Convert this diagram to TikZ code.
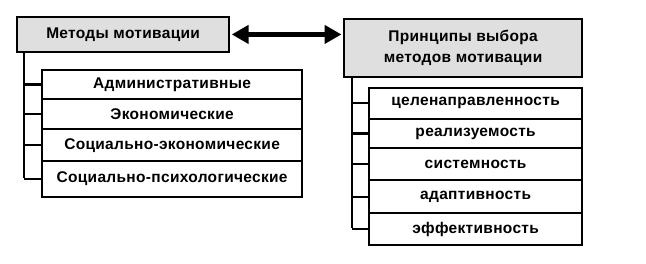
\documentclass[tikz,border=0pt]{standalone}
\usepackage{fontspec}
\setmainfont{Liberation Sans}[LetterSpace=2]
\usetikzlibrary{arrows.meta}
\begin{document}
\begin{tikzpicture}[x=1pt,y=-1pt,line width=2.2pt,
  txt/.style={font=\fontsize{15.5}{21}\selectfont\bfseries},
  hdr/.style={txt,draw,fill=gray!25,align=center,inner sep=0pt,anchor=north west},
  lrow/.style={txt,draw,fill=white,inner sep=0pt,anchor=north west,minimum width=260pt},
  rrow/.style={txt,draw,fill=white,inner sep=0pt,anchor=north west,minimum width=213pt},
  conn/.style={draw,line width=2.2pt},
  bigarrow/.style={line width=5.7pt,{Triangle[length=17pt,width=18pt]}-{Triangle[length=17pt,width=18pt]}}]
\useasboundingbox (0,0) rectangle (646,264);
% headers
\node[hdr,minimum width=212pt,minimum height=34.7pt] (lbox) at (16,16) {Методы мотивации};
\node[hdr,minimum width=238pt,minimum height=58pt] (rbox) at (343,18) {Принципы выбора\\методов мотивации};
% left list
\node[lrow,minimum height=28.4pt] (l1) at (41,69.3) {Административные};
\node[lrow,minimum height=30.6pt] (l2) at (41,97.7) {Экономические};
\node[lrow,minimum height=31.7pt] (l3) at (41,128.3) {Социально-экономические};
\node[lrow,minimum height=35.7pt] (l4) at (41,160) {Социально-психологические};
% right list
\node[rrow,minimum height=31pt] (r1) at (368,86.7) {целенаправленность};
\node[rrow,minimum height=29.6pt] (r2) at (368,117.7) {реализуемость};
\node[rrow,minimum height=31.7pt] (r3) at (368,147.3) {системность};
\node[rrow,minimum height=33.3pt] (r4) at (368,179) {адаптивность};
\node[rrow,minimum height=32pt] (r5) at (368,212.3) {эффективность};
% left tree
\coordinate (lv) at (24.3,177.8);
\draw[conn] (lbox.south -| lv) -- (lv);
\foreach \n in {l1,l2,l3,l4} \draw[conn] (lv |- \n.west) -- (\n.west);
% right tree
\coordinate (rv) at (352.3,228.3);
\draw[conn] (rbox.south -| rv) -- (rv);
\foreach \n in {r1,r2,r3,r4,r5} \draw[conn] (rv |- \n.west) -- (\n.west);
% arrow
\draw[bigarrow,shorten <=1.5pt,shorten >=1.5pt] (lbox.east) -- (rbox.west |- lbox.east);
\end{tikzpicture}
\end{document}
